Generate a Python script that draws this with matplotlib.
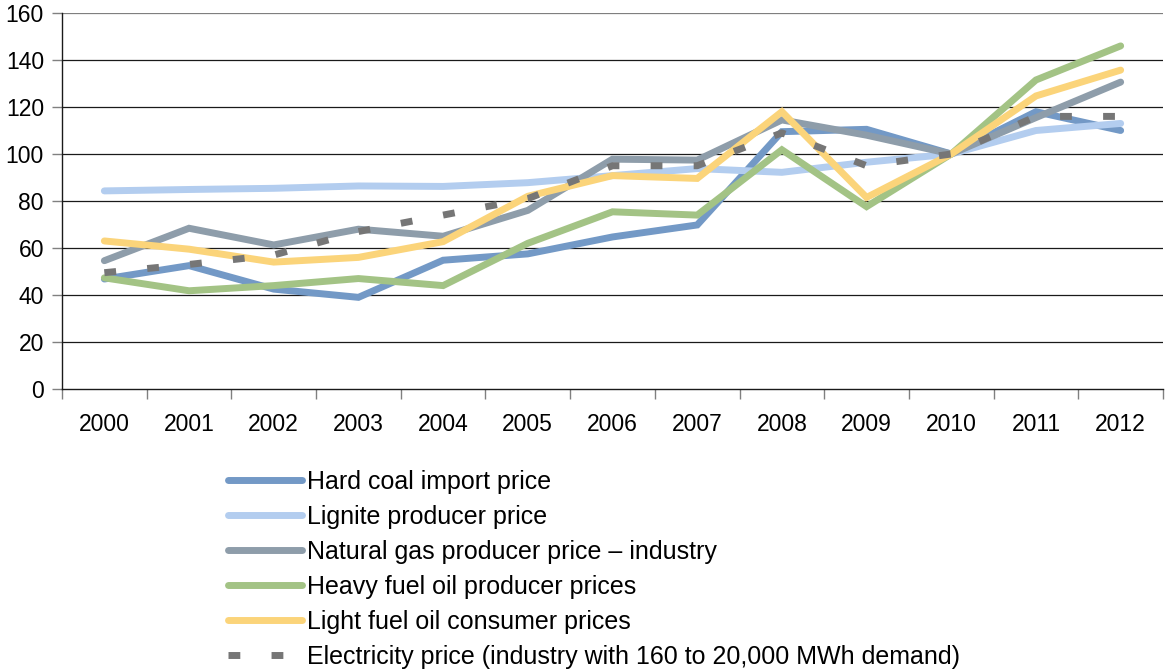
import matplotlib
matplotlib.use("Agg")
import matplotlib.pyplot as plt

plt.rcParams['font.family'] = ['Liberation Sans', 'DejaVu Sans']

years = [str(y) for y in range(2000, 2013)]

hard_coal = [46.8, 52.5, 42.5, 39.0, 54.8, 57.5, 64.7, 69.8, 109.5, 110.5, 100.0, 118.0, 110.0]
lignite = [84.3, 84.9, 85.4, 86.4, 86.2, 87.8, 90.8, 93.8, 92.2, 96.5, 100.0, 110.0, 113.0]
natural_gas = [54.6, 68.4, 61.3, 68.0, 65.0, 76.0, 97.8, 97.4, 114.5, 108.0, 100.0, 115.5, 130.6]
heavy_oil = [47.3, 41.8, 44.0, 47.0, 44.0, 62.0, 75.4, 74.0, 101.8, 77.6, 100.0, 131.5, 146.0]
light_oil = [63.0, 59.5, 54.0, 56.0, 62.7, 82.0, 90.8, 89.6, 118.0, 81.5, 100.0, 124.7, 135.7]
electricity = [49.5, 53.0, 57.0, 67.0, 74.0, 81.0, 95.0, 95.0, 109.0, 95.0, 100.0, 116.0, 116.0]

labels = [
    "Hard coal import price",
    "Lignite producer price",
    "Natural gas producer price \u2013 industry",
    "Heavy fuel oil producer prices",
    "Light fuel oil consumer prices",
    "Electricity price (industry with 160 to 20,000 MWh demand)",
]
colors = ["#7399C6", "#B3CDEF", "#8E9DAA", "#A3C385", "#FBD47A", "#767676"]

fig = plt.figure(figsize=(11.66, 6.70), dpi=100)
ax = fig.add_axes([62 / 1166, 1 - 389 / 670, (1163 - 62) / 1166, (389 - 13) / 670])

x = list(range(len(years)))
series = [hard_coal, lignite, natural_gas, heavy_oil, light_oil]
handles = []
for vals, lab, col in zip(series, labels[:5], colors[:5]):
    h, = ax.plot(x, vals, color=col, lw=5, solid_capstyle='round',
                 solid_joinstyle='miter', label=lab, zorder=3)
    handles.append(h)
h, = ax.plot(x, electricity, color=colors[5], lw=5, linestyle=(0, (1.7, 4.5)),
             dash_capstyle='butt', label=labels[5], zorder=4)
handles.append(h)

ax.set_xlim(-0.5, len(years) - 0.5)
ax.set_ylim(0, 160)
ax.set_yticks(range(0, 161, 20))
for yv in range(20, 161, 20):
    ax.axhline(yv, color='#7f7f7f' if yv == 160 else '#1a1a1a', lw=0.9, zorder=1)

ax.set_xticks([i - 0.5 for i in range(len(years) + 1)])
ax.set_xticklabels([])
ax.set_xticks(x, minor=True)
ax.set_xticklabels(years, minor=True)
ax.tick_params(axis='x', which='major', length=7, width=1, color='#808080', direction='out')
ax.tick_params(axis='x', which='minor', length=0, pad=17, labelsize=16.5)
ax.tick_params(axis='y', length=7, width=1, color='#808080', pad=6, labelsize=16.5)

for s in ['top', 'right']:
    ax.spines[s].set_visible(False)
ax.spines['left'].set_color('#1a1a1a')
ax.spines['bottom'].set_color('#1a1a1a')
ax.spines['left'].set_linewidth(1)
ax.spines['bottom'].set_linewidth(1)

fig.legend(handles=handles, loc='upper left', bbox_to_anchor=(218 / 1166, 1 - 460 / 670),
           frameon=False, fontsize=18, handlelength=2.95, handletextpad=0.2,
           labelspacing=0.44, borderaxespad=0)

fig.savefig("out.png", dpi=100)
